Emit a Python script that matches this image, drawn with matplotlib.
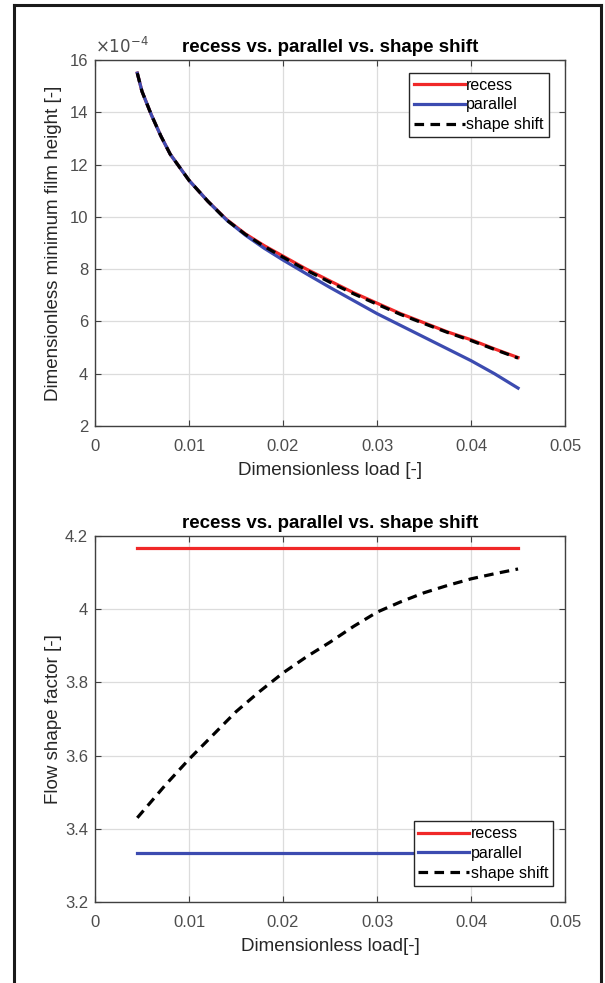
import matplotlib
matplotlib.use('Agg')
import matplotlib.pyplot as plt
from matplotlib.lines import Line2D

plt.rcParams['font.family'] = ['Liberation Sans', 'DejaVu Sans']

# top panel: minimum film height (x1e-4)
load_top = [0.0045, 0.005, 0.006, 0.007, 0.008, 0.009, 0.010, 0.012, 0.014, 0.016,
            0.018, 0.020, 0.0225, 0.025, 0.0275, 0.030, 0.0325, 0.035, 0.0375,
            0.040, 0.0425, 0.045]
h_recess = [15.5, 14.8, 13.9, 13.1, 12.4, 11.9, 11.4, 10.6, 9.9, 9.35,
            8.9, 8.5, 8.0, 7.55, 7.1, 6.7, 6.3, 5.95, 5.6,
            5.3, 4.95, 4.62]
h_parallel = [15.5, 14.8, 13.9, 13.1, 12.4, 11.9, 11.4, 10.6, 9.88, 9.3,
              8.8, 8.35, 7.82, 7.3, 6.8, 6.3, 5.85, 5.4, 4.95,
              4.5, 4.0, 3.45]
h_shift = [15.5, 14.8, 13.9, 13.1, 12.4, 11.9, 11.4, 10.6, 9.88, 9.33,
           8.87, 8.46, 7.96, 7.5, 7.06, 6.66, 6.27, 5.92, 5.58,
           5.27, 4.93, 4.6]

# bottom panel: flow shape factor
load_bot = [0.0045, 0.005, 0.0075, 0.010, 0.0125, 0.015, 0.0175, 0.020, 0.0225,
            0.025, 0.0275, 0.030, 0.0325, 0.035, 0.0375, 0.040, 0.0425, 0.045]
f_recess = [4.1667] * len(load_bot)
f_parallel = [3.3333] * len(load_bot)
f_shift = [3.43, 3.445, 3.52, 3.59, 3.655, 3.72, 3.775, 3.826, 3.87,
           3.91, 3.953, 3.992, 4.02, 4.045, 4.065, 4.083, 4.097, 4.11]

xticks = [0, 0.01, 0.02, 0.03, 0.04, 0.05]
xticklabels = ['0', '0.01', '0.02', '0.03', '0.04', '0.05']

red = '#f02828'
blue = '#3c4bb0'
axcol = '#404040'
tickcol = '#4d4d4d'

fig = plt.figure(figsize=(6.05, 9.83), dpi=100)
ax1 = fig.add_axes([0.157, 0.5666, 0.777, 0.3723])
ax2 = fig.add_axes([0.157, 0.0824, 0.777, 0.3723])


def style(ax):
    ax.set_xlim(0, 0.05)
    ax.set_xticks(xticks)
    ax.set_xticklabels(xticklabels)
    ax.grid(True, color='#dcdcdc', linewidth=0.9)
    ax.set_axisbelow(True)
    ax.tick_params(direction='in', top=True, right=True, length=4,
                   colors=axcol, labelcolor=tickcol, labelsize=12)
    ax.tick_params(axis='x', pad=9)
    ax.tick_params(axis='y', pad=5)
    for s in ax.spines.values():
        s.set_color(axcol)
        s.set_linewidth(1.0)


ax1.plot(load_top, h_recess, color=red, lw=2.3, label='recess')
ax1.plot(load_top, h_parallel, color=blue, lw=2.3, label='parallel')
ax1.plot(load_top, h_shift, color='black', lw=2.3, ls=(0, (3, 2)), label='shape shift')
style(ax1)
ax1.set_ylim(2, 16)
ax1.set_yticks([2, 4, 6, 8, 10, 12, 14, 16])
ax1.set_xlabel('Dimensionless load [-]', fontsize=13.5, color='#262626', labelpad=6)
ax1.set_ylabel('Dimensionless minimum film height [-]', fontsize=13.5, color='#262626')
ax1.yaxis.set_label_coords(-0.07, 0.5)
ax1.set_title('recess vs. parallel vs. shape shift', fontsize=13.5, fontweight='bold', pad=6)
ax1.text(0.0, 1.012, r'$\times10^{-4}$', transform=ax1.transAxes, fontsize=12,
         color=tickcol, ha='left', va='bottom')
leg1 = ax1.legend(loc='upper right', bbox_to_anchor=(0.965, 0.965), fontsize=11.5,
                  handlelength=3.2, handletextpad=0.1, borderpad=0.3, labelspacing=0.3,
                  fancybox=False, framealpha=1, edgecolor='#262626', borderaxespad=0)
leg1.get_frame().set_linewidth(1.0)

ax2.plot(load_bot, f_recess, color=red, lw=2.3, label='recess')
ax2.plot(load_bot, f_parallel, color=blue, lw=2.3, label='parallel')
ax2.plot(load_bot, f_shift, color='black', lw=2.3, ls=(0, (3, 2)), label='shape shift')
style(ax2)
ax2.set_ylim(3.2, 4.2)
ax2.set_yticks([3.2, 3.4, 3.6, 3.8, 4.0, 4.2])
ax2.set_yticklabels(['3.2', '3.4', '3.6', '3.8', '4', '4.2'])
ax2.set_xlabel('Dimensionless load[-]', fontsize=13.5, color='#262626', labelpad=6)
ax2.set_ylabel('Flow shape factor [-]', fontsize=13.5, color='#262626')
ax2.yaxis.set_label_coords(-0.07, 0.5)
ax2.set_title('recess vs. parallel vs. shape shift', fontsize=13.5, fontweight='bold', pad=6)
leg2 = ax2.legend(loc='lower right', bbox_to_anchor=(0.975, 0.045), fontsize=11.5,
                  handlelength=3.2, handletextpad=0.1, borderpad=0.3, labelspacing=0.3,
                  fancybox=False, framealpha=1, edgecolor='#262626', borderaxespad=0)
leg2.get_frame().set_linewidth(1.0)

# outer frame of the figure
fig.add_artist(Line2D([14 / 605, 14 / 605], [0, 1 - 5 / 983], color='#1a1a1a', lw=2.2,
                      transform=fig.transFigure))
fig.add_artist(Line2D([14 / 605, 601 / 605], [1 - 5 / 983, 1 - 5 / 983], color='#1a1a1a', lw=2.2,
                      transform=fig.transFigure))
fig.add_artist(Line2D([601 / 605, 601 / 605], [0, 1 - 5 / 983], color='#1a1a1a', lw=2.2,
                      transform=fig.transFigure))

fig.savefig('out.png', dpi=100)
